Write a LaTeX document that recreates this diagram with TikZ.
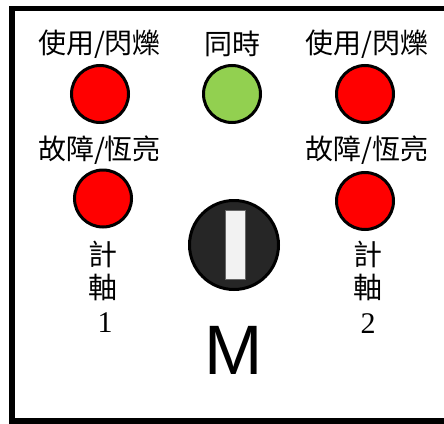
\documentclass[tikz,border=0pt]{standalone}
\usepackage{fontspec}
\setmainfont{Liberation Serif}
\newfontfamily\cjk{Noto Sans CJK TC}
\newfontfamily\sansM{Liberation Sans}
\definecolor{lampred}{RGB}{255,0,0}
\definecolor{lampgreen}{RGB}{146,208,80}
\definecolor{knobgray}{RGB}{38,38,38}
\definecolor{slotgray}{RGB}{242,242,242}
\begin{document}
\begin{tikzpicture}[x=1pt,y=-1pt,
  lamp/.style={circle, draw=black, line width=3pt, minimum size=57pt, inner sep=0pt},
  cjklabel/.style={font=\cjk\fontsize{28}{28}\selectfont, inner sep=0pt},
  axlabel/.style={font=\cjk\fontsize{29}{29}\selectfont, inner sep=0pt},
  numlabel/.style={font=\fontsize{30}{30}\selectfont, inner sep=0pt}]
\useasboundingbox (0,0) rectangle (444,423);
\clip (0,0) rectangle (444,423);
\fill[white] (0,0) rectangle (444,423);
\draw[line width=5.5pt] (12,8.5) rectangle (452,421);

% top row
\node[cjklabel] (t1) at (99.5,44) {使用/閃爍};
\node[cjklabel] (t2) at (232,44) {同時};
\node[cjklabel] (t3) at (367,44) {使用/閃爍};
\node[lamp, fill=lampred] (l1) at (100,94) {};
\node[lamp, fill=lampgreen] (l2) at (232,94) {};
\node[lamp, fill=lampred] (l3) at (365,94) {};

% second row
\node[cjklabel] (f1) at (99.5,150) {故障/恆亮};
\node[cjklabel] (f3) at (367,150) {故障/恆亮};
\node[lamp, fill=lampred] (l4) at (103,198.5) {};
\node[lamp, fill=lampred] (l5) at (365,201) {};

% axle counter labels
\node[axlabel] (a1) at (103,254) {計};
\node[axlabel] (b1) at (103,287) {軸};
\node[numlabel] (n1) at (105,323) {1};
\node[axlabel] (a2) at (368,254) {計};
\node[axlabel] (b2) at (368,287) {軸};
\node[numlabel] (n2) at (368,324) {2};

% selector knob
\node[circle, draw=black, line width=3pt, fill=knobgray, minimum size=89pt, inner sep=0pt] (knob) at (234,245) {};
\node[draw=black!60, line width=0.8pt, fill=slotgray, minimum width=20pt, minimum height=69pt, inner sep=0pt] (slot) at (235.5,244.5) {};
\node[font=\sansM\fontsize{70}{70}\selectfont, inner sep=0pt] (m) at (233.5,350) {M};
\end{tikzpicture}
\end{document}
